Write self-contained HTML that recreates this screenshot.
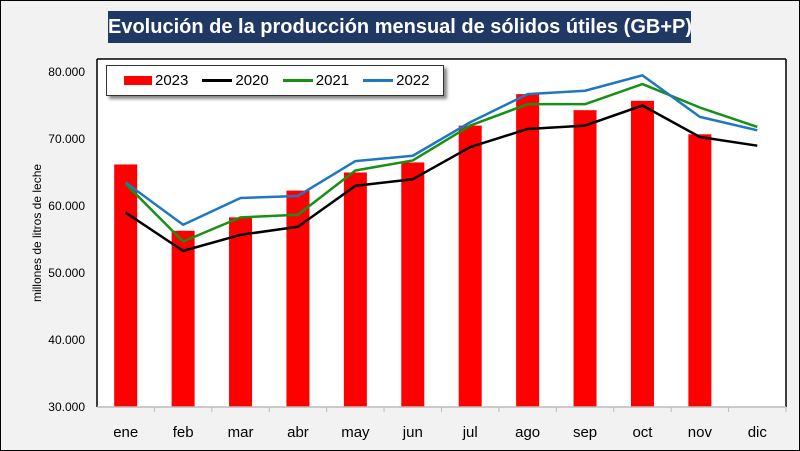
<!DOCTYPE html>
<html><head><meta charset="utf-8"><style>
body{margin:0;background:#fff}
#wrap{position:relative;width:798px;height:449px;border:1px solid #000;background:#f2f2f2;font-family:"Liberation Sans",sans-serif;overflow:hidden}
#title{position:absolute;left:107px;top:10px;width:583px;height:32px;background:#1f3864;color:#fff;font-weight:bold;font-size:20px;line-height:32px;text-align:center;white-space:nowrap}
#legend{position:absolute;left:105px;top:64px;width:336px;height:29px;background:#fff;border:1px solid #333;box-shadow:3px 3px 3px #888;font-size:15px;display:flex;align-items:center;gap:0}
.li{display:flex;align-items:center;margin-left:14px}
.sw{width:28px;height:9px;margin-right:3px}
.ln{width:30px;height:3px;margin-right:3px}
</style></head><body>
<div id="wrap">
<div id="title">Evolución de la producción mensual de sólidos útiles (GB+P)</div>
<svg id="svg" width="798" height="449" style="position:absolute;left:0;top:0"></svg>
<div id="legend">
<div class="li" style="margin-left:17px"><div class="sw" style="background:#ff0000"></div>2023</div>
<div class="li"><div class="ln" style="background:#000"></div>2020</div>
<div class="li"><div class="ln" style="background:#169116"></div>2021</div>
<div class="li"><div class="ln" style="background:#1f77c0"></div>2022</div>
</div>
</div>
<script>
const categories=["ene","feb","mar","abr","may","jun","jul","ago","sep","oct","nov","dic"];
const s2023=[66.2,56.3,58.3,62.3,65.0,66.5,72.0,76.7,74.3,75.7,70.7,null];
const s2020=[59.0,53.3,55.7,56.9,63.0,64.0,68.8,71.5,72.0,75.0,70.3,69.0];
const s2021=[63.3,54.7,58.3,58.7,65.3,66.8,72.0,75.2,75.2,78.2,74.7,71.8];
const s2022=[63.5,57.2,61.2,61.5,66.7,67.5,72.5,76.7,77.2,79.5,73.3,71.3];
const yTicks=[30,40,50,60,70,80];
const yTickLabels=["30.000","40.000","50.000","60.000","70.000","80.000"];
const svg=document.getElementById('svg');const NS="http://www.w3.org/2000/svg";
const L=96,R=785,T=58,B=406;
const y=v=>B-(v-30)*(B-71)/50;
const cw=(R-L)/categories.length;
const x=i=>L+cw*(i+0.5);
function mk(t,a,p){const e=document.createElementNS(NS,t);for(const k in a)e.setAttribute(k,a[k]);(p||svg).appendChild(e);return e;}
const frame=mk('rect',{x:L,y:T,width:R-L,height:B-T,fill:'#fff',stroke:'none'});


yTicks.forEach((v,i)=>{const t=mk('text',{x:L-12,y:y(v)+4,'text-anchor':'end','font-size':12,fill:'#000'});t.textContent=yTickLabels[i];

});
categories.forEach((c,i)=>{const t=mk('text',{x:x(i),y:B+30,'text-anchor':'middle','font-size':15,fill:'#000'});t.textContent=c;


mk('line',{x1:L+cw*(i+1),x2:L+cw*(i+1),y1:B,y2:B+5,stroke:'#bbb'});});
const yt=mk('text',{transform:`translate(40,232) rotate(-90)`,'text-anchor':'middle','font-size':12,fill:'#000'});yt.textContent="millones de litros de leche";


s2023.forEach((v,i)=>{if(v==null)return;const r=mk('rect',{x:x(i)-11.5,y:y(v),width:23,height:B-y(v),fill:'#ff0000'});

});
[[s2020,'#000','2020'],[s2021,'#169116','2021'],[s2022,'#1f77c0','2022']].forEach(([s,c,n])=>{
const p=mk('polyline',{points:s.map((v,i)=>x(i)+','+y(v)).join(' '),fill:'none',stroke:c,'stroke-width':2.5,'stroke-linejoin':'round'});

});
mk('line',{x1:L,x2:L,y1:T,y2:B,stroke:'#000','stroke-width':1.5});
mk('line',{x1:L,x2:R,y1:T,y2:T,stroke:'#000','stroke-width':1.5});
mk('line',{x1:R,x2:R,y1:T,y2:B,stroke:'#000','stroke-width':1.5});
mk('line',{x1:L,x2:R,y1:B,y2:B,stroke:'#bbb','stroke-width':1.5});
</script>
</body></html>
